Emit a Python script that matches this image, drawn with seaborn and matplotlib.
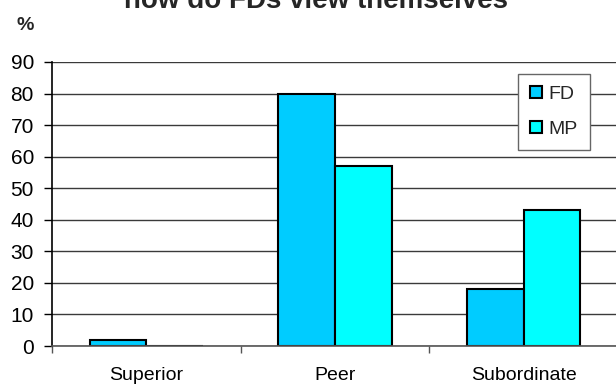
import matplotlib
matplotlib.use("Agg")
import matplotlib.pyplot as plt
import seaborn as sns
import pandas as pd

# Survey shares (%) of how respondents see their role
categories = ["Superior", "Peer", "Subordinate"]
fd_values = [2, 80, 18]
mp_values = [0, 57, 43]
series_names = ["FD", "MP"]
y_ticks = [0, 10, 20, 30, 40, 50, 60, 70, 80, 90]

df = pd.DataFrame({
    "category": categories * 2,
    "value": fd_values + mp_values,
    "series": [series_names[0]] * len(categories) + [series_names[1]] * len(categories),
})

sns.set_theme(style="white")
plt.rcParams["font.family"] = ["Liberation Sans", "DejaVu Sans"]

fig = plt.figure(figsize=(6.16, 3.85), dpi=100)
ax = fig.add_axes([52 / 616, 1 - 346 / 385, 566 / 616, 284 / 385])

sns.barplot(
    data=df, x="category", y="value", hue="series",
    order=categories, hue_order=series_names,
    palette={"FD": "#00CCFF", "MP": "#00FFFF"},
    width=0.6, edgecolor="black", linewidth=1.5, saturation=1,
    ax=ax, legend=True,
)

ax.set_ylim(0, 90)
ax.set_xlim(-0.5, 2.5)
ax.set_yticks(y_ticks)
ax.yaxis.grid(True, color="#3a3a3a", linewidth=1)
ax.set_axisbelow(True)

# category boundaries as tick marks, names as minor labels
ax.set_xticks([-0.5, 0.5, 1.5, 2.5])
ax.set_xticklabels([])
ax.set_xticks([0, 1, 2], minor=True)
ax.set_xticklabels(categories, minor=True)
ax.tick_params(axis="x", which="major", direction="out", length=5, width=1, color="#555555", bottom=True)
ax.tick_params(axis="x", which="minor", length=0, pad=15, labelsize=14, labelcolor="black")
ax.tick_params(axis="y", direction="out", length=6, width=1, color="black", left=True, pad=7, labelsize=15, labelcolor="black")

ax.set_xlabel("")
ax.set_ylabel("")
for side in ["top", "right"]:
    ax.spines[side].set_visible(False)
ax.spines["left"].set_color("black")
ax.spines["left"].set_linewidth(1.2)
ax.spines["bottom"].set_color("#555555")
ax.spines["bottom"].set_linewidth(1.2)

handles, labels = ax.get_legend_handles_labels()
leg = ax.legend(
    handles, labels, loc="upper left",
    bbox_to_anchor=(518 / 616, 1 - 74 / 385), bbox_transform=fig.transFigure,
    borderaxespad=0, frameon=True, fancybox=False, framealpha=1,
    edgecolor="#666666", fontsize=14, handlelength=0.6, handleheight=0.6,
    handletextpad=0.35, labelspacing=0.9, borderpad=0.62,
)
leg.get_frame().set_linewidth(1.0)

fig.text(316 / 616, 1 - 8 / 385, "how do FDs view themselves", ha="center", va="baseline",
         fontsize=20, fontweight="bold")
fig.text(25 / 616, 1 - 25 / 385, "%", ha="center", va="center", fontsize=14, fontweight="bold")

fig.savefig("out.png", dpi=100)
